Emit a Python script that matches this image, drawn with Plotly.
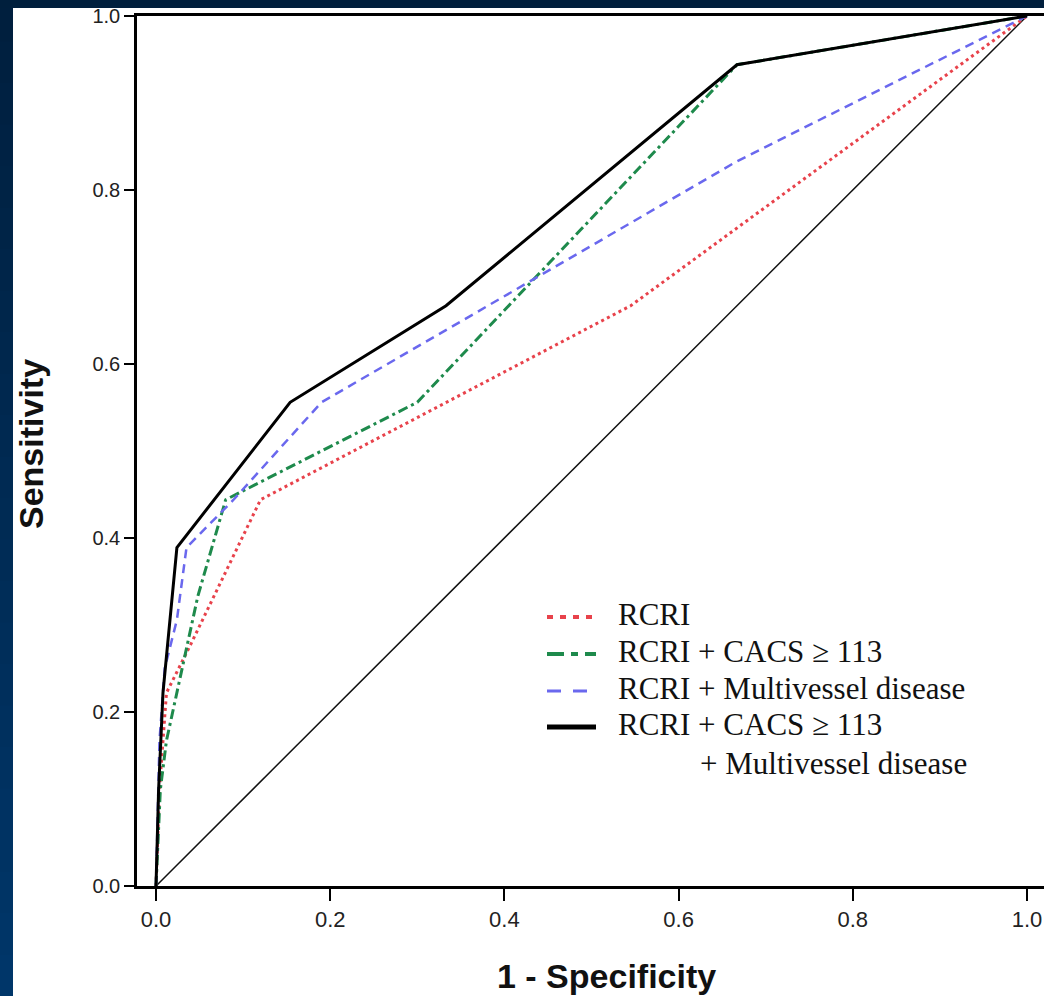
import plotly.graph_objects as go

# ---------------- data ----------------
series_names = ["RCRI", "RCRI + CACS \u2265 113", "RCRI + Multivessel disease",
                "RCRI + CACS \u2265 113"]
last_label_line2 = "+ Multivessel disease"

fpr_rcri = [0, 0.004, 0.012, 0.04, 0.12, 0.545, 1]
tpr_rcri = [0, 0.111, 0.222, 0.278, 0.444, 0.667, 1]

fpr_cacs = [0, 0.005, 0.012, 0.024, 0.048, 0.08, 0.30, 0.667, 1]
tpr_cacs = [0, 0.111, 0.167, 0.222, 0.333, 0.444, 0.556, 0.944, 1]

fpr_mvd = [0, 0.004, 0.010, 0.024, 0.035, 0.089, 0.19, 0.667, 1]
tpr_mvd = [0, 0.167, 0.250, 0.306, 0.389, 0.444, 0.556, 0.833, 1]

fpr_both = [0, 0.003, 0.008, 0.024, 0.154, 0.333, 0.667, 1]
tpr_both = [0, 0.111, 0.222, 0.389, 0.556, 0.667, 0.944, 1]

ref_x = [0, 1]
ref_y = [0, 1]

x_ticks = [0.0, 0.2, 0.4, 0.6, 0.8, 1.0]
y_ticks = [0.0, 0.2, 0.4, 0.6, 0.8, 1.0]

# ---------------- styles ----------------
RED = "#e8424b"
GREEN = "#1e8a4c"
BLUE = "#6a68ee"
BLACK = "#000000"

styles = [
    dict(color=RED, width=3, dash="3px,3.5px"),
    dict(color=GREEN, width=3, dash="10px,4px,3px,4px"),
    dict(color=BLUE, width=2.5, dash="9px,6px"),
    dict(color=BLACK, width=3, dash="solid"),
]
legend_dash = ["6px,7px", "17px,7px,7px,7px", "14px,12px", "solid"]
legend_width = [4, 4, 3, 5]

fig = go.Figure()

fig.add_trace(go.Scatter(x=ref_x, y=ref_y, mode="lines",
                         line=dict(color="#111", width=1.5), showlegend=False,
                         hoverinfo="skip"))

data = [(fpr_rcri, tpr_rcri), (fpr_cacs, tpr_cacs), (fpr_mvd, tpr_mvd),
        (fpr_both, tpr_both)]
for (xs, ys), nm, st in zip(data, series_names, styles):
    fig.add_trace(go.Scatter(x=xs, y=ys, mode="lines", name=nm, line=st,
                             showlegend=False))

# ---------------- geometry helpers (pixels -> paper) ----------------
W, H = 1044, 996
ML, MR, MT, MB = 137, 0, 16, 110
PW = W - ML - MR
PH = H - MT - MB


def px(xp):
    return (xp - ML) / PW


def py(yp):
    return (H - MB - yp) / PH


shapes = []
annotations = []

# navy frame (top strip and left strip with gradient)
top_c = (0, 31, 61)
bot_c = (0, 54, 106)
nb = 24
for i in range(nb):
    t0 = i / nb
    t1 = (i + 1) / nb
    c = tuple(int(round(top_c[k] + (bot_c[k] - top_c[k]) * (t0 + t1) / 2)) for k in range(3))
    shapes.append(dict(type="rect", xref="paper", yref="paper",
                       x0=px(-2), x1=px(13), y0=py(t0 * H), y1=py(t1 * H + 1),
                       line=dict(width=0), fillcolor="rgb(%d,%d,%d)" % c,
                       layer="above"))
shapes.append(dict(type="rect", xref="paper", yref="paper",
                   x0=px(-2), x1=px(W + 2), y0=py(-2), y1=py(8),
                   line=dict(width=0), fillcolor="rgb(0,31,61)", layer="above"))

# manual legend
LEG_FONT = dict(family="Liberation Serif, Times New Roman, serif", size=31, color="#111")
row_y = [617, 654, 691, 727]
text_y = [614, 651, 688, 724]
for i, nm in enumerate(series_names):
    shapes.append(dict(type="line", xref="paper", yref="paper",
                       x0=px(547), x1=px(596), y0=py(row_y[i]), y1=py(row_y[i]),
                       line=dict(color=styles[i]["color"], width=legend_width[i],
                                 dash=legend_dash[i])))
    annotations.append(dict(text=nm, xref="paper", yref="paper",
                            x=px(616), y=py(text_y[i]), xanchor="left",
                            yanchor="middle", showarrow=False, font=LEG_FONT))
annotations.append(dict(text=last_label_line2, xref="paper", yref="paper",
                        x=px(698), y=py(763), xanchor="left", yanchor="middle",
                        showarrow=False, font=LEG_FONT))

# axis titles
annotations.append(dict(text="<b>1 - Specificity</b>", xref="paper", yref="paper",
                        x=px(606), y=py(976), xanchor="center", yanchor="middle",
                        showarrow=False,
                        font=dict(family="Liberation Sans, Arial, sans-serif",
                                  size=34, color="#111")))
annotations.append(dict(text="<b>Sensitivity</b>", xref="paper", yref="paper",
                        x=px(31), y=py(444), xanchor="center", yanchor="middle",
                        textangle=-90, showarrow=False,
                        font=dict(family="Liberation Sans, Arial, sans-serif",
                                  size=34, color="#111")))

x0p, x1p = 156, 1027
xr = [(ML - x0p) / (x1p - x0p), 1 + (W - x1p) / (x1p - x0p)]

fig.update_layout(
    width=W, height=H,
    margin=dict(l=ML, r=MR, t=MT, b=MB, pad=0),
    paper_bgcolor="white", plot_bgcolor="white",
    showlegend=False,
    shapes=shapes, annotations=annotations,
    xaxis=dict(range=xr, tickvals=x_ticks, tickformat=".1f",
               showgrid=False, zeroline=False, showline=True, linecolor="black",
               linewidth=2.5, mirror=True, ticks="outside", ticklen=12,
               tickwidth=1.5, tickcolor="black",
               tickfont=dict(family="Liberation Sans, Arial, sans-serif",
                             size=22, color="#222")),
    yaxis=dict(range=[0, 1], tickvals=y_ticks, tickformat=".1f",
               showgrid=False, zeroline=False, showline=True, linecolor="black",
               linewidth=2.5, ticks="outside", ticklen=10, tickwidth=1.5,
               tickcolor="black", ticklabelstandoff=0,
               tickfont=dict(family="Liberation Sans, Arial, sans-serif",
                             size=20, color="#222")),
)

fig.write_html("out.html")
